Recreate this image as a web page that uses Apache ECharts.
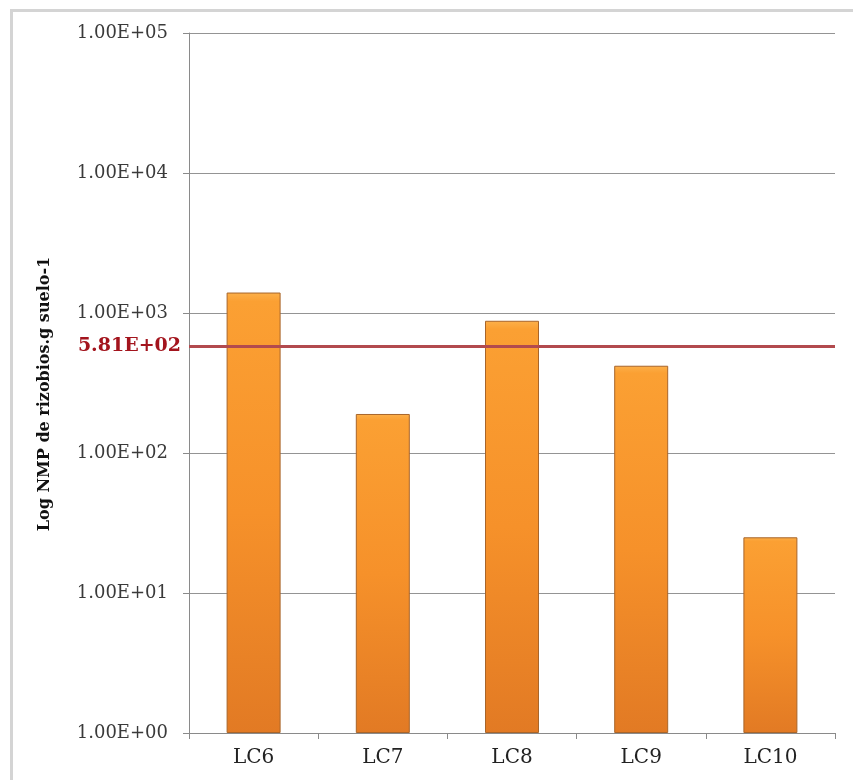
<!DOCTYPE html>
<html>
<head>
<meta charset="utf-8">
<title>Log NMP de rizobios</title>
<script src="https://cdn.jsdelivr.net/npm/echarts@6/dist/echarts.min.js"></script>
<style>
  html, body { margin: 0; padding: 0; background: #fff; }
  #chart { width: 853px; height: 780px; }
</style>
</head>
<body>
<div id="chart"></div>
<script>
// datos
const categories = ['LC6', 'LC7', 'LC8', 'LC9', 'LC10']
const nmpValues = [1400, 190, 880, 420, 25]
const referenceValue = 581
const referenceLabel = '5.81E+02'
const yTickLabels = ['1.00E+00', '1.00E+01', '1.00E+02', '1.00E+03', '1.00E+04', '1.00E+05']

const serif = '"DejaVu Serif", "Liberation Serif", serif'

const chart = echarts.init(document.getElementById('chart'))

const option = {
  backgroundColor: '#fff',
  animation: false,
  // marco gris alrededor de la figura
  graphic: [{
    type: 'rect',
    left: 9,
    top: 8,
    shape: { width: 870, height: 800 },
    style: { fill: 'none', stroke: '#d4d4d4', lineWidth: 3 },
    silent: true
  }],
  grid: {
    left: 189,
    right: 18,
    top: 33,
    bottom: 47
  },
  xAxis: {
    type: 'category',
    data: categories,
    axisLine: { lineStyle: { color: '#8a8a8a', width: 1 } },
    axisTick: { show: true, alignWithLabel: false, length: 6, lineStyle: { color: '#8a8a8a' } },
    axisLabel: {
      color: '#222',
      fontFamily: serif,
      fontSize: 20,
      margin: 15
    }
  },
  yAxis: {
    type: 'log',
    logBase: 10,
    min: 1,
    max: 100000,
    splitNumber: 5,
    name: 'Log NMP de rizobios.g suelo-1',
    nameLocation: 'middle',
    nameGap: 136,
    nameTextStyle: {
      color: '#111',
      fontFamily: serif,
      fontSize: 16,
      fontWeight: 'bold',
      padding: [0, 22, 0, 0]
    },
    axisLine: { show: true, lineStyle: { color: '#8a8a8a', width: 1 } },
    axisTick: { show: true, length: 6, lineStyle: { color: '#8a8a8a' } },
    splitLine: { show: true, lineStyle: { color: '#949494', width: 1 } },
    axisLabel: {
      color: '#3a3a3a',
      fontFamily: serif,
      fontSize: 18,
      margin: 21,
      formatter: function (v) {
        const i = Math.round(Math.log10(v))
        return yTickLabels[i] || ''
      }
    }
  },
  series: [{
    type: 'bar',
    data: nmpValues,
    barWidth: 54,
    itemStyle: {
      color: new echarts.graphic.LinearGradient(0, 0, 0, 1, [
        { offset: 0, color: '#fcb04a' },
        { offset: 0.02, color: '#fba033' },
        { offset: 0.5, color: '#f6912a' },
        { offset: 1, color: '#e27a24' }
      ]),
      borderColor: '#a8652a',
      borderWidth: 1
    },
    markLine: {
      silent: true,
      symbol: ['none', 'none'],
      lineStyle: { color: '#b24a4e', width: 3, type: 'solid' },
      label: {
        show: true,
        position: 'start',
        distance: 8,
        formatter: referenceLabel,
        color: '#a3141d',
        fontFamily: serif,
        fontSize: 19,
        fontWeight: 'bold'
      },
      data: [{ yAxis: referenceValue }]
    }
  }]
}

chart.setOption(option)
</script>
</body>
</html>
